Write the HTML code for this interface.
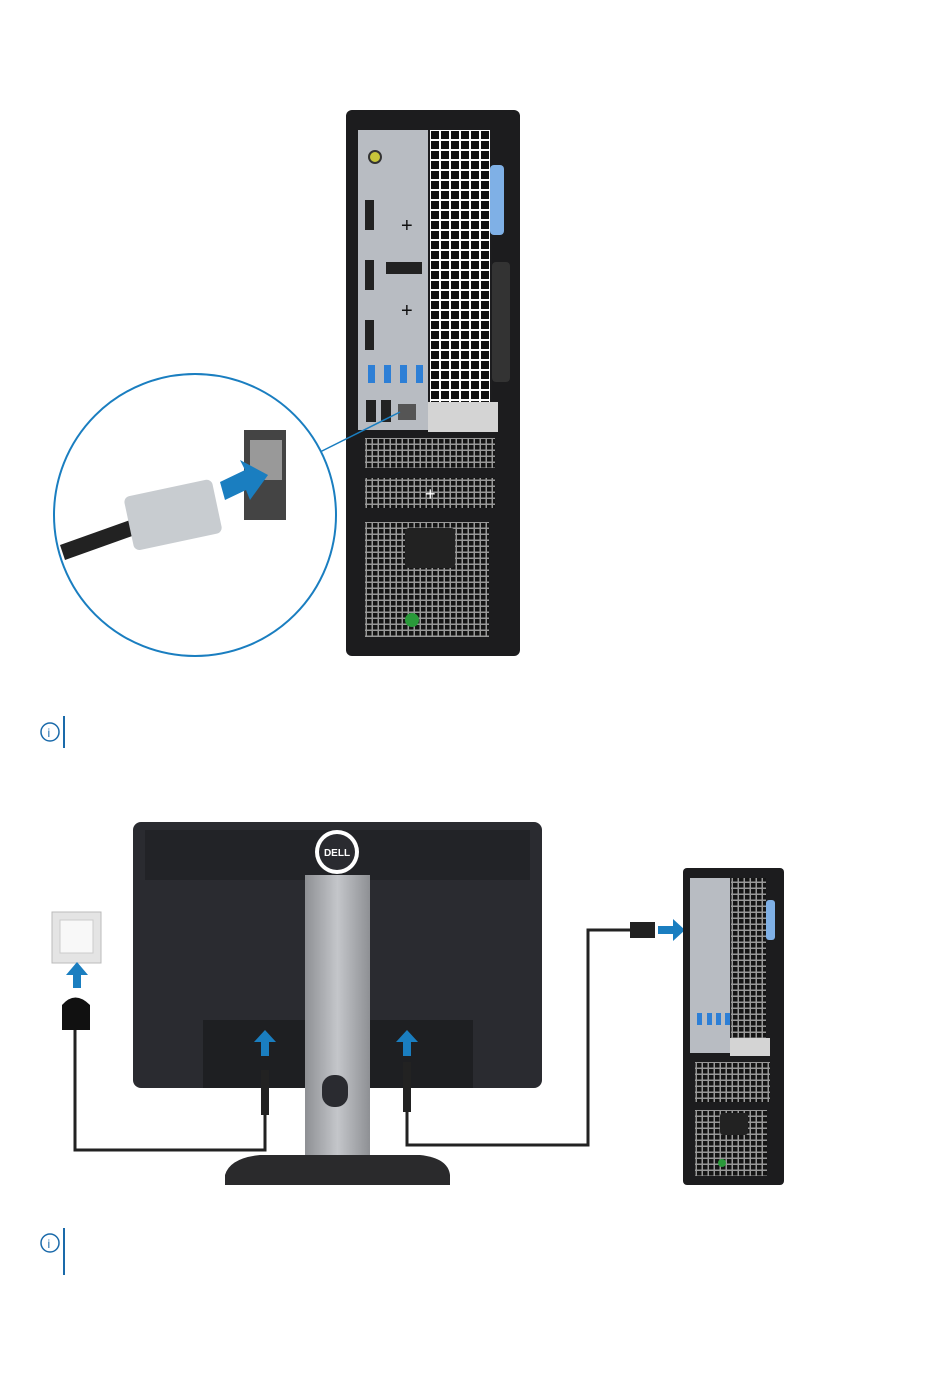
<!DOCTYPE html>
<html><head><style>body{margin:0;background:#fff}svg{display:block}</style></head><body>
<svg width="950" height="1387" viewBox="0 0 950 1387" xmlns="http://www.w3.org/2000/svg">
<defs>
<pattern id="g" width="10" height="10" patternUnits="userSpaceOnUse"><rect width="10" height="10" fill="#fff"/><rect x="1" y="1" width="8" height="8" fill="#111"/></pattern>
<pattern id="g2" width="6" height="6" patternUnits="userSpaceOnUse"><rect width="6" height="6" fill="#999"/><rect x="1" y="1" width="4.5" height="4.5" fill="#151515"/></pattern>
<linearGradient id="st" x1="0" x2="1"><stop offset="0" stop-color="#8e9094"/><stop offset="0.5" stop-color="#c4c6ca"/><stop offset="1" stop-color="#8e9094"/></linearGradient>
</defs>
<!-- main tower -->
<rect x="346" y="110" width="174" height="546" rx="6" fill="#1c1c1e"/>
<rect x="358" y="130" width="70" height="300" fill="#b8bcc2"/>
<rect x="430" y="130" width="60" height="272" fill="url(#g)"/>
<rect x="490" y="165" width="14" height="70" rx="4" fill="#7fb0e6"/>
<rect x="492" y="262" width="18" height="120" rx="4" fill="#333"/>
<circle cx="375" cy="157" r="6" fill="#c8c63a" stroke="#333" stroke-width="2"/>
<rect x="365" y="200" width="9" height="30" fill="#222"/>
<rect x="365" y="260" width="9" height="30" fill="#222"/>
<rect x="365" y="320" width="9" height="30" fill="#222"/>
<text x="401" y="232" font-family="Liberation Sans" font-size="20" fill="#111">+</text>
<text x="401" y="317" font-family="Liberation Sans" font-size="20" fill="#111">+</text>
<rect x="386" y="262" width="36" height="12" fill="#222"/>
<g fill="#2d7fd6"><rect x="368" y="365" width="7" height="18"/><rect x="384" y="365" width="7" height="18"/><rect x="400" y="365" width="7" height="18"/><rect x="416" y="365" width="7" height="18"/></g>
<rect x="366" y="400" width="10" height="22" fill="#222"/><rect x="381" y="400" width="10" height="22" fill="#222"/><rect x="398" y="404" width="18" height="16" fill="#555"/>
<rect x="428" y="402" width="70" height="30" fill="#d4d4d4"/>
<rect x="365" y="438" width="130" height="30" fill="url(#g2)"/>
<rect x="365" y="478" width="130" height="30" fill="url(#g2)"/>
<text x="425" y="500" font-family="Liberation Sans" font-size="18" fill="#fff">+</text>
<rect x="365" y="522" width="124" height="115" fill="url(#g2)"/>
<rect x="405" y="528" width="50" height="40" rx="4" fill="#222"/>
<circle cx="412" cy="620" r="7" fill="#2a9a3a"/>
<line x1="320" y1="452" x2="400" y2="412" stroke="#1a7ec0" stroke-width="1.5"/>
<circle cx="195" cy="515" r="141" fill="#fff" stroke="#1a7ec0" stroke-width="2"/>
<rect x="244" y="430" width="42" height="90" fill="#444"/>
<rect x="250" y="440" width="32" height="40" fill="#999"/>
<path d="M60 545 L130 520 L135 535 L65 560Z" fill="#222"/>
<rect x="128" y="488" width="90" height="55" rx="6" fill="#c8ccd0" transform="rotate(-12 170 515)"/>
<path d="M220 482 L245 470 L240 460 L268 475 L250 500 L246 490 L225 500Z" fill="#1a7ec0"/>
<!-- note 1 -->
<circle cx="50" cy="732" r="9" fill="none" stroke="#1a6aaa" stroke-width="1.5"/><text x="47.5" y="737" font-family="Liberation Sans" font-size="12" fill="#1a6aaa">i</text>
<rect x="63" y="716" width="2" height="32" fill="#1a6aaa"/>
<!-- monitor -->
<rect x="133" y="822" width="409" height="266" rx="8" fill="#2a2b30"/>
<rect x="145" y="830" width="385" height="50" fill="#222327"/>
<rect x="203" y="1020" width="270" height="68" fill="#1e1f22"/>
<rect x="305" y="875" width="65" height="285" fill="url(#st)"/>
<rect x="322" y="1075" width="26" height="32" rx="12" fill="#2a2b30"/>
<path d="M225 1175 Q230 1158 260 1155 L420 1155 Q448 1158 450 1175 L450 1185 L225 1185Z" fill="#2a2a2c"/>
<circle cx="337" cy="852" r="22" fill="#fff"/><circle cx="337" cy="852" r="18" fill="#2a2b30"/>
<text x="337" y="856" text-anchor="middle" font-family="Liberation Sans" font-weight="bold" font-size="10" fill="#fff">DELL</text>
<!-- outlet -->
<rect x="52" y="912" width="49" height="51" fill="#e4e4e4" stroke="#bbb"/>
<rect x="60" y="920" width="33" height="33" fill="#f8f8f8" stroke="#ccc"/>
<path d="M77 962 L88 975 L81 975 L81 988 L73 988 L73 975 L66 975Z" fill="#1a7ec0"/>
<path d="M62 1005 Q75 990 90 1005 L90 1030 L62 1030Z" fill="#111"/>
<g fill="none" stroke="#222" stroke-width="3">
<path d="M75 1030 L75 1150 L265 1150 L265 1090"/>
<path d="M407 1090 L407 1145 L588 1145 L588 930 L630 930"/></g>
<rect x="261" y="1070" width="8" height="45" fill="#222"/>
<rect x="403" y="1062" width="8" height="50" fill="#222"/>
<rect x="630" y="922" width="25" height="16" fill="#222"/>
<path d="M265 1030 L276 1042 L269 1042 L269 1056 L261 1056 L261 1042 L254 1042Z" fill="#1a7ec0"/>
<path d="M407 1030 L418 1042 L411 1042 L411 1056 L403 1056 L403 1042 L396 1042Z" fill="#1a7ec0"/>
<path d="M685 930 L673 919 L673 926 L658 926 L658 934 L673 934 L673 941Z" fill="#1a7ec0"/>
<!-- small tower -->
<rect x="683" y="868" width="101" height="317" rx="4" fill="#1c1c1e"/>
<rect x="690" y="878" width="40" height="175" fill="#b8bcc2"/>
<rect x="731" y="878" width="35" height="160" fill="url(#g2)"/>
<rect x="766" y="900" width="9" height="40" rx="3" fill="#7fb0e6"/>
<g fill="#2d7fd6"><rect x="697" y="1013" width="5" height="12"/><rect x="707" y="1013" width="5" height="12"/><rect x="716" y="1013" width="5" height="12"/><rect x="725" y="1013" width="5" height="12"/></g>
<rect x="730" y="1038" width="40" height="18" fill="#d4d4d4"/>
<rect x="695" y="1062" width="75" height="40" fill="url(#g2)"/>
<rect x="695" y="1110" width="72" height="66" fill="url(#g2)"/>
<rect x="720" y="1113" width="28" height="22" rx="3" fill="#222"/>
<circle cx="722" cy="1163" r="4" fill="#2a9a3a"/>
<!-- note 2 -->
<circle cx="50" cy="1243" r="9" fill="none" stroke="#1a6aaa" stroke-width="1.5"/><text x="47.5" y="1248" font-family="Liberation Sans" font-size="12" fill="#1a6aaa">i</text>
<rect x="63" y="1228" width="2" height="47" fill="#1a6aaa"/>
</svg>
</body></html>
